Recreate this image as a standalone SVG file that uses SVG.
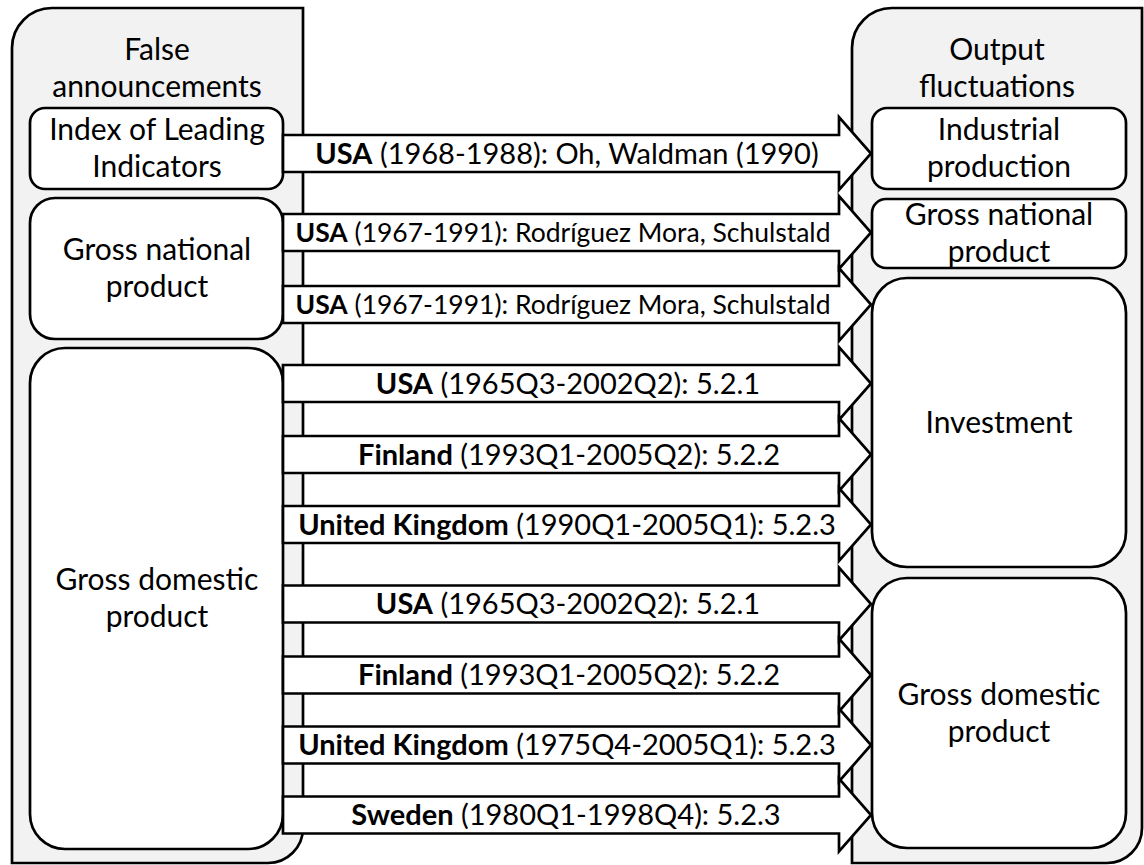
<svg xmlns="http://www.w3.org/2000/svg" width="1144" height="865" viewBox="0 0 1144 865">
<style>
.cont{fill:#F2F2F2;stroke:#000;stroke-width:2.7}
.node{fill:#fff;stroke:#000;stroke-width:2.7}
.arr{fill:#fff;stroke:#000;stroke-width:2.7;stroke-linejoin:miter}
.t{font-family:Lato,"Open Sans","Liberation Sans",sans-serif;font-size:30px;fill:#000;text-anchor:middle}
.l{font-size:29px}
.s{font-size:26.5px}
.b{font-weight:bold}
</style>
<rect x="0" y="0" width="1144" height="865" fill="#fff"/>
<g id="left-container">
<path class="cont" d="M12,48 A40,40 0 0 1 52,8 L303,8 L303,828 A35,35 0 0 1 268,863 L12,863 Z"/>
<text class="t" x="157" y="60">False</text>
<text class="t" x="157" y="97">announcements</text>
</g>
<g id="right-container">
<path class="cont" d="M852,48 A40,40 0 0 1 892,8 L1142,8 L1142,828 A35,35 0 0 1 1107,863 L852,863 Z"/>
<text class="t" x="997" y="60">Output</text>
<text class="t" x="997" y="97">fluctuations</text>
</g>
<g id="n-index">
<rect class="node" x="30" y="108" width="253" height="81" rx="15"/>
<text class="t" x="157" y="140">Index of Leading</text>
<text class="t" x="157" y="177">Indicators</text>
</g>
<g id="n-gnp-left">
<rect class="node" x="30" y="198" width="253" height="141" rx="25"/>
<text class="t" x="157" y="260">Gross national</text>
<text class="t" x="157" y="297">product</text>
</g>
<g id="n-gdp-left">
<rect class="node" x="30" y="348" width="253" height="501" rx="35"/>
<text class="t" x="157" y="590">Gross domestic</text>
<text class="t" x="157" y="627">product</text>
</g>
<g id="n-industrial">
<rect class="node" x="872" y="108" width="254" height="81" rx="15"/>
<text class="t" x="999" y="140">Industrial</text>
<text class="t" x="999" y="177">production</text>
</g>
<g id="n-gnp-right">
<rect class="node" x="872" y="199" width="254" height="69" rx="14"/>
<text class="t" x="999" y="225">Gross national</text>
<text class="t" x="999" y="262">product</text>
</g>
<g id="n-investment">
<rect class="node" x="872" y="278" width="254" height="289" rx="35"/>
<text class="t" x="999" y="433">Investment</text>
</g>
<g id="n-gdp-right">
<rect class="node" x="872" y="578" width="254" height="270" rx="35"/>
<text class="t" x="999" y="705">Gross domestic</text>
<text class="t" x="999" y="742">product</text>
</g>
<g id="connectors">
<path class="arr" d="M283,135 H839 V117 L871,153.5 L839,190 V172 H283 Z"/>
<path class="arr" d="M283,214 H839 V196 L871,232.5 L839,269 V251 H283 Z"/>
<path class="arr" d="M283,286 H839 V268 L871,304.5 L839,341 V323 H283 Z"/>
<path class="arr" d="M283,365 H839 V347 L871,383.5 L839,420 V402 H283 Z"/>
<path class="arr" d="M283,436 H839 V418 L871,454.5 L839,491 V473 H283 Z"/>
<path class="arr" d="M283,506 H839 V488 L871,524.5 L839,561 V543 H283 Z"/>
<path class="arr" d="M283,585.5 H839 V567.5 L871,604 L839,640.5 V622.5 H283 Z"/>
<path class="arr" d="M283,656.5 H839 V638.5 L871,675 L839,711.5 V693.5 H283 Z"/>
<path class="arr" d="M283,726.5 H839 V708.5 L871,745 L839,781.5 V763.5 H283 Z"/>
<path class="arr" d="M283,796.5 H839 V778.5 L871,815 L839,851.5 V833.5 H283 Z"/>
<text class="t l" x="567" y="164"><tspan class="b">USA</tspan> (1968-1988): Oh, Waldman (1990)</text>
<text class="t s" x="563" y="242"><tspan class="b">USA</tspan> (1967-1991): Rodríguez Mora, Schulstald</text>
<text class="t s" x="563" y="314"><tspan class="b">USA</tspan> (1967-1991): Rodríguez Mora, Schulstald</text>
<text class="t l" x="568" y="394"><tspan class="b">USA</tspan> (1965Q3-2002Q2): 5.2.1</text>
<text class="t l" x="569" y="465"><tspan class="b">Finland</tspan> (1993Q1-2005Q2): 5.2.2</text>
<text class="t l" x="567" y="535"><tspan class="b">United Kingdom</tspan> (1990Q1-2005Q1): 5.2.3</text>
<text class="t l" x="568" y="614"><tspan class="b">USA</tspan> (1965Q3-2002Q2): 5.2.1</text>
<text class="t l" x="569" y="685"><tspan class="b">Finland</tspan> (1993Q1-2005Q2): 5.2.2</text>
<text class="t l" x="567" y="755"><tspan class="b">United Kingdom</tspan> (1975Q4-2005Q1): 5.2.3</text>
<text class="t l" x="566" y="825"><tspan class="b">Sweden</tspan> (1980Q1-1998Q4): 5.2.3</text>
</g>
</svg>
